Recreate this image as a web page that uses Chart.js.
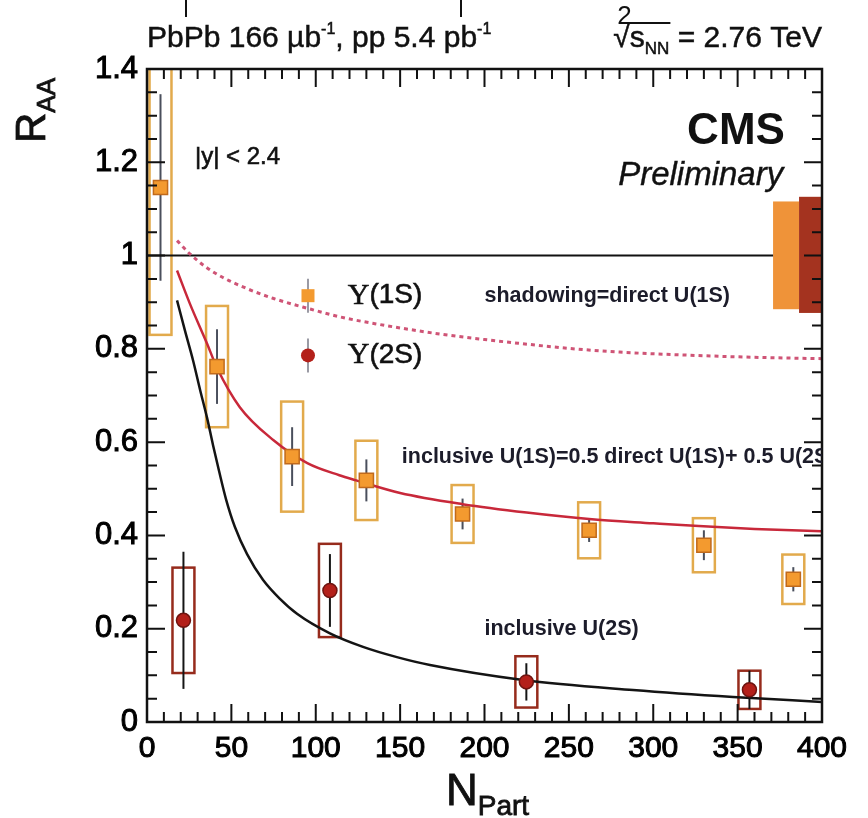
<!DOCTYPE html>
<html>
<head>
<meta charset="utf-8">
<script src="https://cdn.jsdelivr.net/npm/chart.js@4"></script>
<style>
  html, body { margin: 0; padding: 0; background: #fff; }
  canvas { display: block; }
</style>
</head>
<body>
<canvas id="raa" width="868" height="818"></canvas>
<script>
// datos (Npart, RAA)
const npart1S = [8, 41.5, 86, 130, 187, 262, 330, 383];
const raa1S   = [1.146, 0.762, 0.569, 0.518, 0.446, 0.411, 0.379, 0.306];
const stat1S  = [0.20, 0.08, 0.063, 0.045, 0.033, 0.025, 0.032, 0.026];
const syst1S  = [0.316, 0.13, 0.118, 0.085, 0.062, 0.06, 0.058, 0.053];

const npart2S = [21.6, 108.4, 224.8, 357];
const raa2S   = [0.218, 0.282, 0.086, 0.069];
const stat2S  = [0.147, 0.078, 0.04, 0.041];
const syst2S  = [0.113, 0.1, 0.055, 0.041];

// incertidumbre global (cajas junto a RAA = 1)
const globalDesde = [371, 386.4];
const globalHasta = [386.4, 400];
const globalBajo  = [0.885, 0.877];
const globalAlto  = [1.116, 1.126];

// curvas del modelo
const shadowNpart = [17.8, 25, 35, 45, 60, 75, 95, 115, 135, 155, 175, 200, 220, 250, 280, 310, 340, 370, 400];
const shadowRaa   = [1.032, 1.005, 0.975, 0.953, 0.928, 0.908, 0.887, 0.868, 0.854, 0.842, 0.831, 0.82, 0.812, 0.801, 0.793, 0.788, 0.784, 0.781, 0.779];

const incl1SNpart = [17.8, 25.4, 35.5, 41.4, 55, 75, 95, 114, 124, 150, 187, 225, 262, 300, 327, 360, 400];
const incl1SRaa   = [0.968, 0.897, 0.812, 0.76, 0.675, 0.604, 0.555, 0.529, 0.518, 0.491, 0.467, 0.449, 0.435, 0.426, 0.42, 0.414, 0.409];

const incl2SNpart = [17.8, 22.5, 27.3, 31.4, 35.6, 39.1, 42.7, 46.8, 52.1, 59.3, 68.7, 78.8, 88.9, 108.4, 128, 148.1, 167.7, 222.8, 288, 347.3, 400];
const incl2SRaa   = [0.904, 0.839, 0.775, 0.713, 0.652, 0.594, 0.538, 0.478, 0.418, 0.36, 0.305, 0.264, 0.232, 0.19, 0.161, 0.139, 0.122, 0.09, 0.0685, 0.0535, 0.043];

const unoNpart = [0, 371];
const unoRaa   = [1, 1];

// etiquetas de los ejes
const xTicks = [0, 50, 100, 150, 200, 250, 300, 350, 400];
const yTicks = [0, 0.2, 0.4, 0.6, 0.8, 1, 1.2, 1.4];

const SANS = '"Liberation Sans", Arial, Helvetica, sans-serif';
const SERIF = '"Liberation Serif", "Times New Roman", serif';
const anchoCaja = 6.5; // media anchura de las cajas sistematicas (en Npart)

function puntos(xs, ys) {
    return xs.map((v, i) => ({ x: v, y: ys[i] }));
}

// dibuja trozos de texto seguidos (para sub/superindices)
function trozos(ctx, partes, x, y, alinear, grosor) {
    let total = 0;
    partes.forEach(p => { ctx.font = p.f; total += ctx.measureText(p.t).width; });
    let cx = alinear === 'right' ? x - total : x;
    const pos = [];
    partes.forEach(p => {
        ctx.font = p.f;
        ctx.fillText(p.t, cx, y + (p.dy || 0));
        if (grosor) {
            ctx.lineWidth = grosor;
            ctx.strokeStyle = ctx.fillStyle;
            ctx.strokeText(p.t, cx, y + (p.dy || 0));
        }
        const w = ctx.measureText(p.t).width;
        pos.push([cx, cx + w]);
        cx += w;
    });
    return pos;
}

function texto(ctx, t, x, y, grosor) {
    ctx.fillText(t, x, y);
    ctx.lineWidth = grosor;
    ctx.strokeStyle = ctx.fillStyle;
    ctx.strokeText(t, x, y);
}

// cajas, barras de error y cajas globales
const cajas = {
    id: 'cajas',
    beforeDatasetsDraw(chart) {
        const { ctx, chartArea: a, scales: { x, y } } = chart;
        ctx.save();
        ctx.beginPath();
        ctx.rect(a.left, a.top, a.right - a.left, a.bottom - a.top);
        ctx.clip();

        const coloresGlobal = ['#ef9339', '#a4331f'];
        globalDesde.forEach((d, i) => {
            const x0 = x.getPixelForValue(d), x1 = x.getPixelForValue(globalHasta[i]);
            const y0 = y.getPixelForValue(globalAlto[i]), y1 = y.getPixelForValue(globalBajo[i]);
            ctx.fillStyle = coloresGlobal[i];
            ctx.fillRect(x0, y0, x1 - x0, y1 - y0);
        });

        function caja(n, r, s, color) {
            const x0 = x.getPixelForValue(n - anchoCaja), x1 = x.getPixelForValue(n + anchoCaja);
            const y0 = y.getPixelForValue(r + s), y1 = y.getPixelForValue(r - s);
            ctx.strokeStyle = color;
            ctx.lineWidth = 2.5;
            ctx.strokeRect(x0, y0, x1 - x0, y1 - y0);
        }
        function barra(n, r, e, color) {
            const px = x.getPixelForValue(n);
            ctx.strokeStyle = color;
            ctx.lineWidth = 2;
            ctx.beginPath();
            ctx.moveTo(px, y.getPixelForValue(r + e));
            ctx.lineTo(px, y.getPixelForValue(r - e));
            ctx.stroke();
        }
        npart1S.forEach((n, i) => caja(n, raa1S[i], syst1S[i], '#e2aa4c'));
        npart2S.forEach((n, i) => caja(n, raa2S[i], syst2S[i], '#962b1c'));
        npart1S.forEach((n, i) => barra(n, raa1S[i], stat1S[i], '#4a4f5c'));
        npart2S.forEach((n, i) => barra(n, raa2S[i], stat2S[i], '#151515'));
        ctx.restore();
    }
};

// marco, marcas interiores y textos
const marco = {
    id: 'marco',
    afterDraw(chart) {
        const { ctx, chartArea: a, scales: { x, y } } = chart;
        ctx.save();
        ctx.strokeStyle = '#111';
        ctx.lineWidth = 2;
        ctx.beginPath();
        for (let v = 0; v <= 400; v += 10) {
            const px = x.getPixelForValue(v);
            const largo = v % 50 === 0 ? 18 : 10;
            ctx.moveTo(px, a.bottom); ctx.lineTo(px, a.bottom - largo);
            ctx.moveTo(px, a.top); ctx.lineTo(px, a.top + largo);
        }
        for (let k = 0; k <= 28; k++) {
            const py = y.getPixelForValue(k * 0.05);
            const largo = k % 4 === 0 ? 18 : 10;
            ctx.moveTo(a.left, py); ctx.lineTo(a.left + largo, py);
            ctx.moveTo(a.right, py); ctx.lineTo(a.right - largo, py);
        }
        ctx.stroke();
        ctx.lineWidth = 2.5;
        ctx.strokeRect(a.left, a.top, a.right - a.left, a.bottom - a.top);

        ctx.fillStyle = '#111';
        ctx.textBaseline = 'alphabetic';
        ctx.textAlign = 'left';

        // cabecera
        trozos(ctx, [
            { t: 'PbPb 166 \u00b5b', f: '30px ' + SANS },
            { t: '-1', f: '16px ' + SANS, dy: -13 },
            { t: ', pp 5.4 pb', f: '30px ' + SANS },
            { t: '-1', f: '16px ' + SANS, dy: -13 }
        ], 147, 47, 'left', 0.5);
        const pos = trozos(ctx, [
            { t: '\u221a', f: '30px ' + SANS },
            { t: 's', f: '30px ' + SANS },
            { t: 'NN', f: '17px ' + SANS, dy: 7 },
            { t: ' = 2.76 TeV', f: '30px ' + SANS }
        ], 822, 47, 'right', 0.5);
        ctx.lineWidth = 2;
        ctx.beginPath();
        ctx.moveTo(pos[1][0] - 1, 23); ctx.lineTo(pos[2][1] + 1, 23);
        ctx.stroke();
        ctx.font = '26px ' + SANS;
        ctx.fillText('2', pos[0][0] + 4, 24);
        ctx.lineWidth = 2;
        ctx.beginPath();
        ctx.moveTo(186, 0); ctx.lineTo(186, 17);
        ctx.moveTo(461, 0); ctx.lineTo(461, 17);
        ctx.stroke();

        // titulo eje y: R_AA
        ctx.save();
        ctx.translate(45, 143);
        ctx.rotate(-Math.PI / 2);
        trozos(ctx, [
            { t: 'R', f: '42px ' + SANS },
            { t: 'AA', f: '26px ' + SANS, dy: 10 }
        ], 0, 0, 'left', 0.8);
        ctx.restore();

        // titulo eje x: N_Part
        trozos(ctx, [
            { t: 'N', f: '44px ' + SANS },
            { t: 'Part', f: '28px ' + SANS, dy: 10 }
        ], 446, 805, 'left', 0.8);

        // textos dentro del grafico
        ctx.textBaseline = 'middle';
        ctx.font = '24px ' + SANS;
        texto(ctx, '|y| < 2.4', x.getPixelForValue(28.4), y.getPixelForValue(1.21), 0.6);
        ctx.textAlign = 'right';
        ctx.font = 'bold 44px ' + SANS;
        ctx.fillText('CMS', x.getPixelForValue(378), y.getPixelForValue(1.266));
        ctx.font = 'italic 33px ' + SANS;
        texto(ctx, 'Preliminary', x.getPixelForValue(377), y.getPixelForValue(1.17), 0.4);

        ctx.textAlign = 'left';
        ctx.fillStyle = '#1c1c2a';
        ctx.font = 'bold 21.5px ' + SANS;
        ctx.fillText('shadowing=direct U(1S)', x.getPixelForValue(200), y.getPixelForValue(0.914));
        ctx.fillText('inclusive U(2S)', x.getPixelForValue(200), y.getPixelForValue(0.199));
        ctx.save();
        ctx.beginPath();
        ctx.rect(a.left, a.top, a.right - a.left, a.bottom - a.top);
        ctx.clip();
        ctx.fillText('inclusive U(1S)=0.5 direct U(1S)+ 0.5 U(2S)', x.getPixelForValue(151), y.getPixelForValue(0.567));
        ctx.restore();

        // leyenda
        const lx = x.getPixelForValue(95.4);
        const ly1 = y.getPixelForValue(0.914), ly2 = y.getPixelForValue(0.786);
        ctx.strokeStyle = '#9a9aa4';
        ctx.lineWidth = 2;
        ctx.beginPath();
        ctx.moveTo(lx, ly1 - 17); ctx.lineTo(lx, ly1 + 17);
        ctx.moveTo(lx, ly2 - 17); ctx.lineTo(lx, ly2 + 17);
        ctx.stroke();
        ctx.fillStyle = '#f39a2f';
        ctx.fillRect(lx - 6.5, ly1 - 6.5, 13, 13);
        ctx.fillStyle = '#b3201a';
        ctx.beginPath(); ctx.arc(lx, ly2, 7, 0, Math.PI * 2); ctx.fill();

        ctx.fillStyle = '#111';
        const tx = x.getPixelForValue(119);
        trozos(ctx, [{ t: '\u03a5', f: '30px ' + SERIF }, { t: '(1S)', f: '28px ' + SANS }], tx, ly1, 'left', 0.6);
        trozos(ctx, [{ t: '\u03a5', f: '30px ' + SERIF }, { t: '(2S)', f: '28px ' + SANS }], tx, ly2, 'left', 0.6);
        ctx.restore();
    }
};

const ctx = document.getElementById('raa');

new Chart(ctx, {
    type: 'scatter',
    data: {
        datasets: [
            {   // Y(2S)
                data: puntos(npart2S, raa2S),
                pointStyle: 'circle',
                pointRadius: 7,
                pointHoverRadius: 7,
                backgroundColor: '#b3201a',
                borderColor: '#6e1410',
                borderWidth: 1.5
            },
            {   // Y(1S)
                data: puntos(npart1S, raa1S),
                pointStyle: 'rect',
                pointRadius: 10,
                pointHoverRadius: 10,
                backgroundColor: '#f39a2f',
                borderColor: '#c06a1c',
                borderWidth: 1.5
            },
            {   // inclusive U(2S)
                data: puntos(incl2SNpart, incl2SRaa),
                showLine: true, pointRadius: 0,
                borderColor: '#141414', borderWidth: 2.5,
                cubicInterpolationMode: 'monotone'
            },
            {   // inclusive U(1S)
                data: puntos(incl1SNpart, incl1SRaa),
                showLine: true, pointRadius: 0,
                borderColor: '#c8283a', borderWidth: 2.5,
                cubicInterpolationMode: 'monotone'
            },
            {   // shadowing = direct U(1S)
                data: puntos(shadowNpart, shadowRaa),
                showLine: true, pointRadius: 0,
                borderColor: '#cf5476', borderWidth: 3,
                borderDash: [4, 4],
                cubicInterpolationMode: 'monotone'
            },
            {   // RAA = 1
                data: puntos(unoNpart, unoRaa),
                showLine: true, pointRadius: 0,
                borderColor: '#111', borderWidth: 2
            }
        ]
    },
    options: {
        responsive: false,
        animation: false,
        events: [],
        layout: { padding: { left: 0, right: 46, top: 69, bottom: 0 } },
        plugins: { legend: { display: false }, tooltip: { enabled: false } },
        scales: {
            x: {
                type: 'linear', min: 0, max: 400,
                afterBuildTicks: s => { s.ticks = xTicks.map(v => ({ value: v })); },
                afterFit: s => { s.height = 96; },
                ticks: {
                    color: '#000', font: { family: SANS, size: 30 }, padding: 9,
                    autoSkip: false, maxRotation: 0,
                    textStrokeColor: '#000', textStrokeWidth: 1
                },
                grid: { display: false, drawTicks: false },
                border: { display: false }
            },
            y: {
                min: 0, max: 1.4,
                afterBuildTicks: s => { s.ticks = yTicks.map(v => ({ value: v })); },
                afterFit: s => { s.width = 147; },
                ticks: {
                    color: '#000', font: { family: SANS, size: 31 }, padding: 9,
                    textStrokeColor: '#000', textStrokeWidth: 1,
                    callback: v => String(Number(v.toFixed(1)))
                },
                grid: { display: false, drawTicks: false },
                border: { display: false }
            }
        }
    },
    plugins: [cajas, marco]
});
</script>
</body>
</html>
